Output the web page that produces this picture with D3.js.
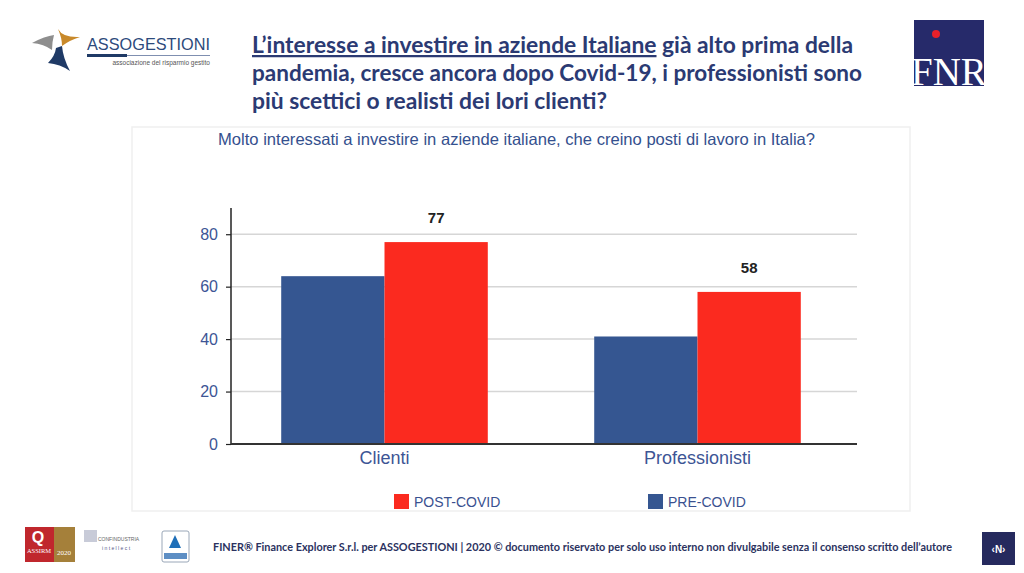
<!DOCTYPE html>
<html><head><meta charset="utf-8">
<script src="https://cdn.jsdelivr.net/npm/d3@7"></script>
<style>
html,body{margin:0;padding:0;background:#fff;}
svg{display:block;}
</style></head>
<body>
<svg id="c" width="1024" height="573"></svg>
<script>
const categories = ["Clienti", "Professionisti"];
const seriesNames = ["PRE-COVID", "POST-COVID"];
const preCovid = [64, 41];
const postCovid = [77, 58];
const yTicks = [0, 20, 40, 60, 80];

(function(){
const colors = {"PRE-COVID": "#355691", "POST-COVID": "#fb2a1f"};
const navy = "#2b3a73";
const axisText = "#3d5595";
const narrow = "'Liberation Sans Narrow', 'Arial Narrow', 'Liberation Sans', Arial";

const svg = d3.select("#c");

// ---------- header ----------
const lg = svg.append("g");
lg.append("path").attr("d","M32,43 Q45,36 54,35 Q52,42 52,50 Q44,44 32,43 Z").attr("fill","#8e8e8e");
lg.append("path").attr("d","M58,29 Q63,38 80,37 Q70,40 62,46 Q62,38 58,29 Z").attr("fill","#c8892a");
lg.append("path").attr("d","M48,63 Q55,56 56,48 L62,46 Q63,58 70,71 Q60,64 48,63 Z").attr("fill","#1f3a66");
lg.append("text").attr("x",87).attr("y",50).text("ASSOGESTIONI")
  .attr("font-family","Liberation Sans, Arial").attr("font-size",17).attr("fill","#2d4a7c")
  .attr("textLength",123).attr("lengthAdjust","spacingAndGlyphs");
lg.append("rect").attr("x",87).attr("y",54).attr("width",40).attr("height",3).attr("fill","#1f3a66");
lg.append("rect").attr("x",127).attr("y",55).attr("width",83).attr("height",1).attr("fill","#7f8fb0");
lg.append("text").attr("x",210).attr("y",65).attr("text-anchor","end").text("associazione del risparmio gestito")
  .attr("font-family",narrow).attr("font-size",6.5).attr("fill","#555");

const titleX = 252;
const titleFont = {family:"Lato, 'Open Sans', sans-serif", size:22.5};
const titleLines = [
  {y:53, len:601},
  {y:81, len:610},
  {y:109, len:355}
];
const t1 = svg.append("text").attr("x",titleX).attr("y",titleLines[0].y)
  .attr("font-family",titleFont.family).attr("font-weight","bold").attr("font-size",titleFont.size).attr("fill",navy)
  .attr("textLength",titleLines[0].len).attr("lengthAdjust","spacingAndGlyphs");
t1.append("tspan").text("L\u2019interesse a investire in aziende Italiane").attr("text-decoration","underline");
t1.append("tspan").text(" già alto prima della");
svg.append("text").attr("x",titleX).attr("y",titleLines[1].y).text("pandemia, cresce ancora dopo Covid-19, i professionisti sono")
  .attr("font-family",titleFont.family).attr("font-weight","bold").attr("font-size",titleFont.size).attr("fill",navy)
  .attr("textLength",titleLines[1].len).attr("lengthAdjust","spacingAndGlyphs");
svg.append("text").attr("x",titleX).attr("y",titleLines[2].y).text("più scettici o realisti dei lori clienti?")
  .attr("font-family",titleFont.family).attr("font-weight","bold").attr("font-size",titleFont.size).attr("fill",navy)
  .attr("textLength",titleLines[2].len).attr("lengthAdjust","spacingAndGlyphs");

const fg = svg.append("g");
fg.append("clipPath").attr("id","fnrclip").append("rect").attr("x",914).attr("y",20).attr("width",70).attr("height",66);
fg.append("rect").attr("x",914).attr("y",20).attr("width",70).attr("height",66).attr("fill","#262a6a");
fg.append("circle").attr("cx",936).attr("cy",34).attr("r",4).attr("fill","#e8202a");
fg.append("text").attr("x",911).attr("y",85).text("FNR").attr("clip-path","url(#fnrclip)")
  .attr("font-family","Liberation Serif, serif").attr("font-size",39).attr("fill","#fff");

// ---------- chart panel ----------
svg.append("rect").attr("x",132).attr("y",127).attr("width",778).attr("height",384)
  .attr("fill","#fff").attr("stroke","#efefef").attr("stroke-width",1.5);

svg.append("text").attr("x",218).attr("y",145)
  .text("Molto interessati a investire in aziende italiane, che creino posti di lavoro in Italia?")
  .attr("font-family",narrow).attr("font-size",16.5).attr("fill","#34508e")
  .attr("textLength",597).attr("lengthAdjust","spacingAndGlyphs");

const pLeft = 231, pRight = 857, pTop = 208, pBottom = 444;
const x0 = d3.scaleBand().domain(categories).range([pLeft, pRight]).paddingInner(0).paddingOuter(0);
const innerPad = 0.17;
const x1 = d3.scaleBand().domain(seriesNames).range([x0.bandwidth()*innerPad - 3, x0.bandwidth()*(1-innerPad) - 3]);
const y = d3.scaleLinear().domain([0, 90]).range([pBottom, pTop]);

svg.append("g").selectAll("line").data(yTicks.filter(d=>d>0)).join("line")
  .attr("x1",pLeft).attr("x2",pRight).attr("y1",d=>y(d)).attr("y2",d=>y(d))
  .attr("stroke","#d6d6d6").attr("stroke-width",1.5);

const data = categories.map((c,i)=>({cat:c, vals:[{s:"PRE-COVID", v:preCovid[i]},{s:"POST-COVID", v:postCovid[i]}]}));

const groups = svg.append("g").selectAll("g").data(data).join("g")
  .attr("transform", d=>`translate(${x0(d.cat)},0)`);
groups.selectAll("rect").data(d=>d.vals).join("rect")
  .attr("x", d=>x1(d.s)).attr("width", x1.bandwidth())
  .attr("y", d=>y(d.v)).attr("height", d=>y(0)-y(d.v))
  .attr("fill", d=>colors[d.s]);
groups.selectAll("text.val").data(d=>d.vals.filter(v=>v.s==="POST-COVID")).join("text")
  .attr("class","val")
  .attr("x", d=>x1(d.s)+x1.bandwidth()/2).attr("y", d=>y(d.v)-19)
  .attr("text-anchor","middle").text(d=>d.v)
  .attr("font-family",narrow).attr("font-weight","bold").attr("font-size",15).attr("fill","#222");

const yAxis = svg.append("g").attr("transform",`translate(${pLeft},0)`)
  .call(d3.axisLeft(y).tickValues(yTicks).tickSize(5).tickPadding(8));
yAxis.select(".domain").attr("d",`M0,${pTop}V${pBottom}`).attr("stroke","#222").attr("stroke-width",1.5);
yAxis.selectAll(".tick line").attr("stroke","#222").attr("stroke-width",1.2);
yAxis.selectAll(".tick text").attr("font-family",narrow).attr("font-size",16).attr("fill",axisText);

const xAxis = svg.append("g").attr("transform",`translate(0,${pBottom})`)
  .call(d3.axisBottom(x0).tickSize(0).tickPadding(7));
xAxis.select(".domain").attr("d",`M${pLeft},0H${pRight}`).attr("stroke","#333").attr("stroke-width",2);
xAxis.selectAll(".tick text").attr("font-family",narrow).attr("font-size",18).attr("fill",axisText)
  .attr("dx",-3);

const legendItems = [{s:"POST-COVID", x:394},{s:"PRE-COVID", x:648}];
const leg = svg.append("g").selectAll("g").data(legendItems).join("g")
  .attr("transform", d=>`translate(${d.x},494)`);
leg.append("rect").attr("width",15).attr("height",15).attr("fill",d=>colors[d.s]);
leg.append("text").attr("x",20).attr("y",13).text(d=>d.s)
  .attr("font-family","Liberation Sans, Arial").attr("font-size",14).attr("fill","#3a5190");

// ---------- footer ----------
const fl = svg.append("g");
fl.append("rect").attr("x",25).attr("y",527).attr("width",29).attr("height",35).attr("fill","#c0272d");
fl.append("rect").attr("x",54).attr("y",527).attr("width",21).attr("height",35).attr("fill","#a5803a");
fl.append("text").attr("x",39).attr("y",553).attr("text-anchor","middle").text("ASSIRM")
  .attr("font-family","Liberation Serif, serif").attr("font-size",6.5).attr("fill","#fff");
fl.append("text").attr("x",64).attr("y",555).attr("text-anchor","middle").text("2020")
  .attr("font-family","Liberation Serif, serif").attr("font-size",7).attr("fill","#fff");
fl.append("text").attr("x",38).attr("y",543).attr("text-anchor","middle").text("Q")
  .attr("font-family","Liberation Sans, Arial").attr("font-weight","bold").attr("font-size",16).attr("fill","#fff");
fl.append("rect").attr("x",84).attr("y",530).attr("width",13).attr("height",12).attr("fill","#c8cbd8");
fl.append("text").attr("x",98).attr("y",541).text("CONFINDUSTRIA")
  .attr("font-family","Liberation Sans, Arial").attr("font-size",5).attr("fill","#666");
fl.append("text").attr("x",102).attr("y",550).text("i n t e l l e c t")
  .attr("font-family","Liberation Sans, Arial").attr("font-size",5).attr("fill","#555a88");
fl.append("rect").attr("x",162).attr("y",531).attr("width",27).attr("height",31).attr("rx",2)
  .attr("fill","#fff").attr("stroke","#9aa7b8");
fl.append("path").attr("d","M175,535 L169,548 L181,548 Z").attr("fill","#1f6fb8");
fl.append("rect").attr("x",164).attr("y",553).attr("width",23).attr("height",6).attr("fill","#5d8ec4");

svg.append("text").attr("x",213).attr("y",551)
  .text("FINER\u00ae Finance Explorer S.r.l.  per ASSOGESTIONI | 2020 \u00a9 documento riservato per solo uso interno non divulgabile senza il consenso scritto dell\u2019autore")
  .attr("font-family","Lato, sans-serif").attr("font-weight","bold").attr("font-size",11).attr("fill","#2b3260")
  .attr("textLength",739).attr("lengthAdjust","spacingAndGlyphs");

svg.append("rect").attr("x",982).attr("y",532).attr("width",33).attr("height",33).attr("fill","#262a5e");
svg.append("text").attr("x",998.5).attr("y",553).attr("text-anchor","middle").text("\u2039N\u203a")
  .attr("font-family","Liberation Sans, Arial").attr("font-weight","bold").attr("font-size",10).attr("fill","#fff");
})();
</script>
</body></html>
